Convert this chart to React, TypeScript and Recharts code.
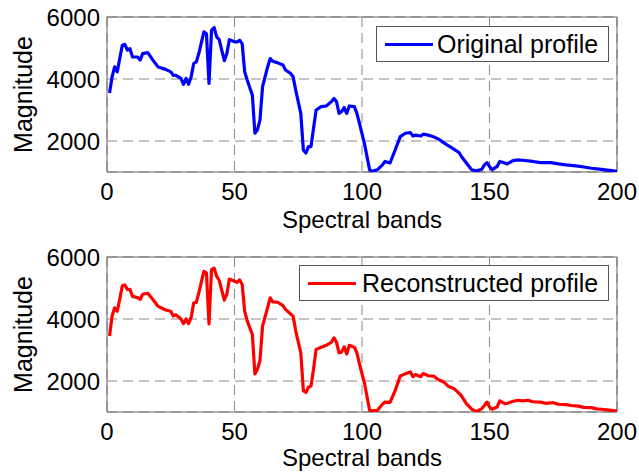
import React from 'react';
import { LineChart, Line, XAxis, YAxis, CartesianGrid, ReferenceArea } from 'recharts';

const bandsOriginal = [
  1, 2, 3, 4, 5, 6, 7, 8, 9, 10, 12, 13, 14, 16, 18, 20, 23, 25, 26, 27, 29, 30, 31, 32, 33, 34, 35, 36, 38, 39,
  40, 41, 42, 43, 44, 46, 47, 48, 50, 51, 52, 53, 54, 55, 57, 58, 59, 60, 61, 63, 64, 65, 67, 69, 70, 72, 73, 74,
  76, 77, 78, 79, 80, 81, 82, 84, 86, 88, 89, 90, 91, 92, 93, 94, 95, 97, 98, 99, 101, 103, 104, 106, 108, 109,
  111, 113, 115, 117, 119, 120, 121, 123, 124, 126, 128, 130, 132, 134, 136, 138, 139, 141, 143, 145, 147, 148,
  149, 150, 151, 153, 154, 156, 157, 159, 161, 164, 167, 170, 174, 177, 180, 184, 187, 190, 193, 197, 200,
];
const valuesOriginal = [
  3550, 4070, 4390, 4230, 4660, 5090, 5120, 4930, 4980, 4710, 4710, 4610, 4820, 4850, 4610, 4390, 4310, 4230, 4120,
  4120, 4020, 3830, 4020, 3830, 4070, 4500, 4550, 4820, 5520, 5460, 3860, 5570, 5660, 5360, 5270, 4590, 4820, 5270,
  5200, 5200, 5250, 5140, 4230, 3960, 3480, 2250, 2360, 2680, 3750, 4390, 4660, 4570, 4520, 4450, 4290, 4180, 4070,
  3640, 2890, 1710, 1610, 1820, 1820, 2410, 3000, 3110, 3130, 3270, 3370, 3270, 2890, 2950, 3080, 2890, 3130, 3110,
  2890, 2570, 1900, 1070, 1020, 1070, 1230, 1340, 1290, 1710, 2140, 2250, 2270, 2160, 2190, 2160, 2220, 2190, 2140,
  2060, 1950, 1840, 1740, 1630, 1500, 1280, 1070, 1040, 1090, 1230, 1300, 1180, 1070, 1180, 1340, 1290, 1260, 1360,
  1390, 1370, 1340, 1300, 1300, 1260, 1230, 1200, 1160, 1120, 1090, 1050, 1020,
];

const bandsReconstructed = [
  1, 2, 3, 4, 5, 6, 7, 8, 9, 10, 12, 13, 14, 16, 18, 20, 23, 25, 26, 27, 29, 30, 31, 32, 33, 34, 35, 36, 38, 39,
  40, 41, 42, 43, 44, 46, 47, 48, 50, 51, 52, 53, 54, 55, 57, 58, 59, 60, 61, 63, 64, 65, 67, 69, 70, 72, 73, 74,
  76, 77, 78, 79, 80, 81, 82, 84, 86, 88, 89, 90, 91, 92, 93, 94, 95, 97, 98, 99, 101, 103, 104, 106, 108, 109,
  111, 113, 115, 117, 119, 120, 121, 123, 124, 126, 128, 130, 132, 134, 136, 138, 139, 141, 143, 145, 147, 148,
  149, 150, 151, 153, 154, 156, 157, 159, 161, 163, 165, 167, 170, 172, 175, 177, 180, 182, 185, 187, 190, 192,
  195, 197, 200,
];
const valuesReconstructed = [
  3450, 4100, 4360, 4250, 4640, 5070, 5100, 4950, 4960, 4730, 4690, 4630, 4800, 4830, 4630, 4410, 4290, 4250, 4100,
  4140, 4000, 3850, 4000, 3850, 4050, 4520, 4530, 4840, 5540, 5480, 3840, 5590, 5640, 5380, 5250, 4610, 4800, 5290,
  5220, 5180, 5260, 5120, 4250, 3940, 3500, 2230, 2380, 2660, 3770, 4370, 4680, 4550, 4540, 4430, 4310, 4160, 4090,
  3620, 2910, 1690, 1630, 1800, 1840, 2390, 3020, 3090, 3150, 3250, 3390, 3250, 2910, 2930, 3100, 2870, 3150, 3090,
  2910, 2550, 1920, 1050, 1040, 1050, 1250, 1320, 1310, 1690, 2160, 2230, 2290, 2140, 2210, 2140, 2240, 2170, 2160,
  2040, 1970, 1820, 1760, 1610, 1520, 1260, 1090, 1020, 1110, 1210, 1320, 1160, 1090, 1160, 1360, 1270, 1280, 1340,
  1380, 1360, 1380, 1330, 1320, 1280, 1300, 1250, 1240, 1210, 1190, 1150, 1140, 1100, 1080, 1060, 1030,
];

const xTicks = [0, 50, 100, 150, 200];
const yTicks = [2000, 4000, 6000];

const dataOriginal = bandsOriginal.map((b, i) => ({ band: b, value: valuesOriginal[i] }));
const dataReconstructed = bandsReconstructed.map((b, i) => ({ band: b, value: valuesReconstructed[i] }));

const FONT = '"Liberation Sans", Arial, Helvetica, sans-serif';
const FS = 24;

const YLabel = (props: any) => {
  const vb = props.viewBox || { x: 0, y: 0, width: 0, height: 0 };
  const x = vb.x + 32;
  const y = vb.y + vb.height / 2;
  return (
    <text x={x} y={y} transform={`rotate(-90, ${x}, ${y})`} textAnchor="middle" fontSize={25} fontFamily={FONT} fill="#000">
      Magnitude
    </text>
  );
};

function Panel({ data, color, top, height, xAxisHeight, labelOffset }: any) {
  return (
    <LineChart
      width={639}
      height={height}
      data={data}
      margin={{ top, right: 22, bottom: 0, left: 0 }}
      style={{ fontFamily: FONT }}
    >
      <CartesianGrid stroke="#8a8a8a" strokeDasharray="10 6" strokeWidth={1} />
      <ReferenceArea x1={0} x2={200} y1={1000} y2={6000} fill="#fff" fillOpacity={0} stroke="#666" strokeWidth={1} />
      <XAxis
        dataKey="band"
        type="number"
        domain={[0, 200]}
        ticks={xTicks}
        height={xAxisHeight}
        tickSize={0}
        tickMargin={11}
        axisLine={false}
        tickLine={false}
        tick={{ fill: '#000', fontSize: FS, fontFamily: FONT }}
        label={{ value: 'Spectral bands', position: 'insideBottom', offset: labelOffset, fill: '#000', fontSize: FS, fontFamily: FONT }}
        allowDataOverflow
      />
      <YAxis
        type="number"
        domain={[1000, 6000]}
        ticks={yTicks}
        width={107}
        tickSize={0}
        tickMargin={7}
        axisLine={false}
        tickLine={false}
        tick={{ fill: '#000', fontSize: FS, fontFamily: FONT }}
        label={{ content: YLabel }}
        allowDataOverflow
      />
      <Line
        type="linear"
        dataKey="value"
        stroke={color}
        strokeWidth={3.2}
        dot={false}
        isAnimationActive={false}
        strokeLinejoin="round"
      />
    </LineChart>
  );
}

const LegendBox = ({ left, top, width, lineLeft, lineWidth, textLeft, color, text }: any) => (
  <div
    style={{
      position: 'absolute',
      left,
      top,
      width,
      height: 36,
      boxSizing: 'border-box',
      border: '1px solid #555',
      background: '#fff',
      fontFamily: FONT,
    }}
  >
    <div style={{ position: 'absolute', left: lineLeft, top: 16, width: lineWidth, height: 3, background: color }} />
    <div style={{ position: 'absolute', left: textLeft, top: 2, fontSize: 25, lineHeight: '30px', color: '#000', whiteSpace: 'nowrap' }}>
      {text}
    </div>
  </div>
);

export default function App() {
  return (
    <div style={{ position: 'absolute', left: 0, top: 0, width: 639, height: 473, background: '#fff', overflow: 'hidden' }}>
      <div style={{ position: 'absolute', left: 0, top: 0 }}>
        <Panel data={dataOriginal} color="#0000ff" top={17} height={236} xAxisHeight={64} labelOffset={8} />
      </div>
      <div style={{ position: 'absolute', left: 0, top: 236 }}>
        <Panel data={dataReconstructed} color="#ff0000" top={21} height={237} xAxisHeight={61} labelOffset={7} />
      </div>
      <LegendBox left={376} top={26} width={233} lineLeft={8} lineWidth={48} textLeft={60} color="#0000ff" text="Original profile" />
      <LegendBox left={299} top={265} width={310} lineLeft={8} lineWidth={48} textLeft={62} color="#ff0000" text="Reconstructed profile" />
    </div>
  );
}
